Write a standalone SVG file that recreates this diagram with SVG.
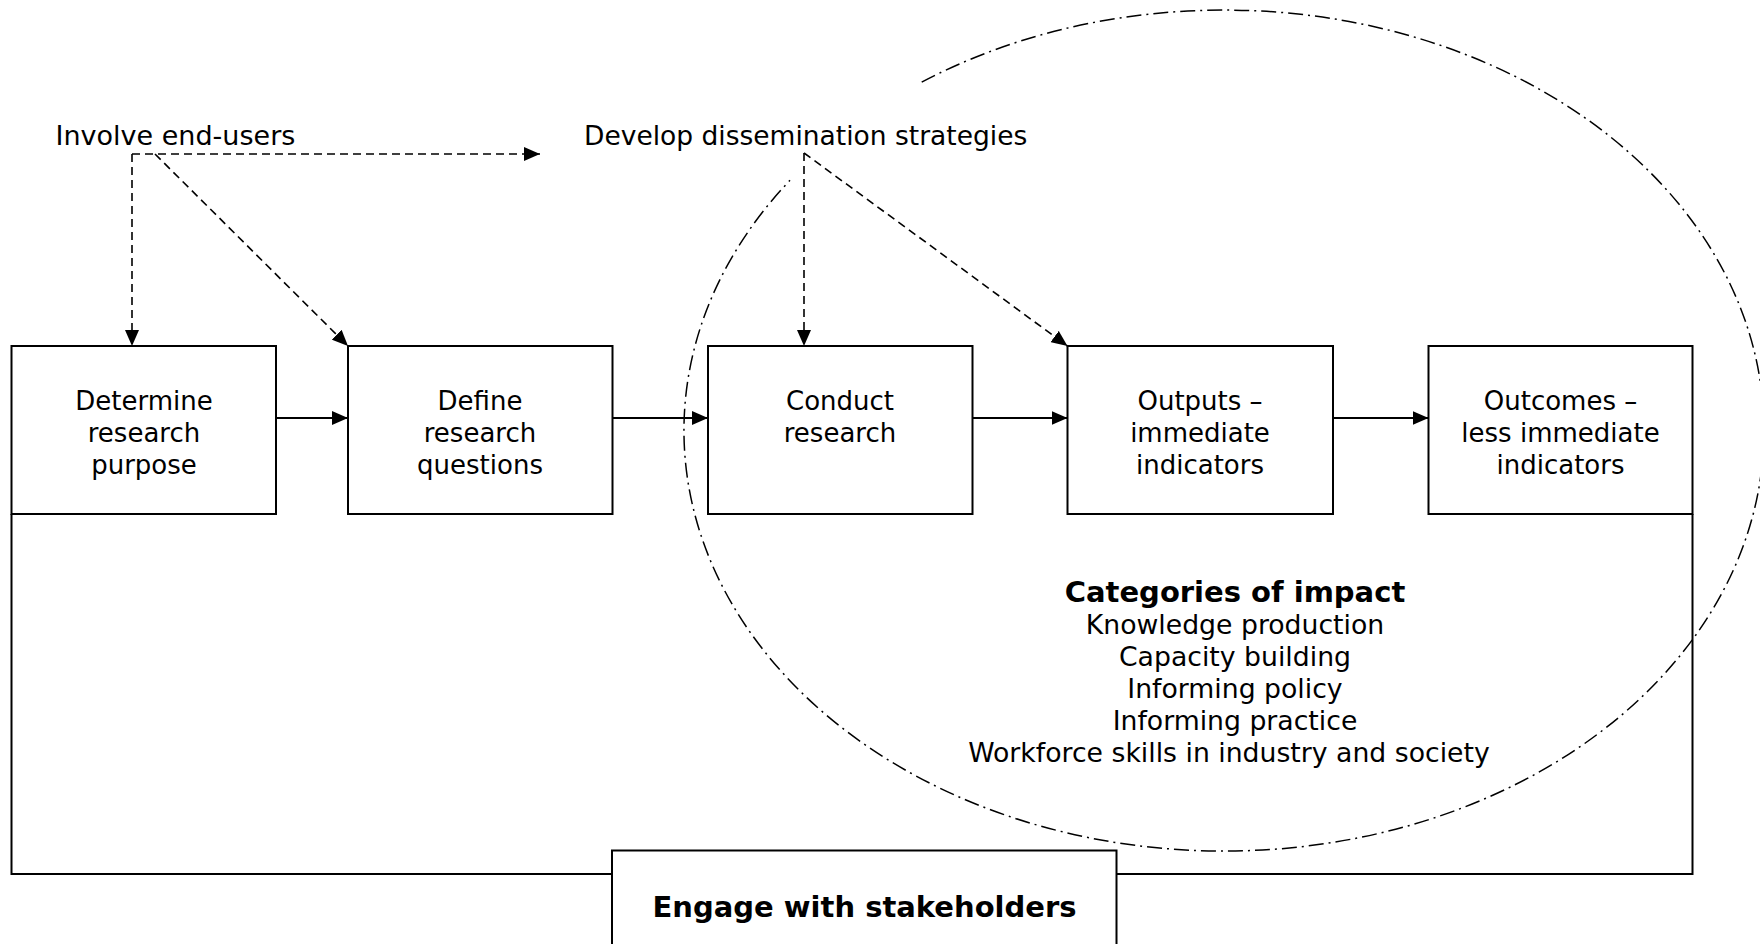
<svg xmlns="http://www.w3.org/2000/svg" width="1760" height="944" viewBox="0 0 1760 944">
<style>
text{font-family:"DejaVu Sans","Verdana",sans-serif;font-size:26px;fill:#000}
.c{text-anchor:middle}
.t{font-size:27px}
.t2{font-size:26.5px}
.l{font-size:26.7px}
.b{font-weight:bold;font-size:29px}
.box{fill:#fff;stroke:#000;stroke-width:2}
.solid{fill:none;stroke:#000;stroke-width:2}
.dash{fill:none;stroke:#000;stroke-width:1.6;stroke-dasharray:8 5}
.dd{fill:none;stroke:#000;stroke-width:1.5;stroke-dasharray:15 5 2 5}
</style>
<defs>
<marker id="ah" viewBox="0 0 16 14" refX="16" refY="7" markerWidth="16" markerHeight="14" markerUnits="userSpaceOnUse" orient="auto">
<path d="M0,0 L16,7 L0,14 Z" fill="#000"/>
</marker>
</defs>
<rect width="1760" height="944" fill="#fff"/>

<g id="impact-ellipse">
<path class="dd" d="M 921.7 82.1 A 540 420.5 0 1 1 790 180.3"/>
</g>

<g id="connectors">
<polyline class="solid" points="11.5,514 11.5,874 612,874"/>
<polyline class="solid" points="1692.5,514 1692.5,874 1116.5,874"/>
<line class="solid" x1="276" y1="418" x2="348" y2="418" marker-end="url(#ah)"/>
<line class="solid" x1="612" y1="418" x2="708" y2="418" marker-end="url(#ah)"/>
<line class="solid" x1="972" y1="418" x2="1067.5" y2="418" marker-end="url(#ah)"/>
<line class="solid" x1="1333" y1="418" x2="1428.5" y2="418" marker-end="url(#ah)"/>
<path class="dash" d="M132,154 L540,154" marker-end="url(#ah)"/>
<path class="dash" d="M132,154 L132,346" marker-end="url(#ah)"/>
<line class="dash" x1="155" y1="154" x2="348" y2="346" marker-end="url(#ah)"/>
<line class="dash" x1="804" y1="153" x2="804" y2="346" marker-end="url(#ah)"/>
<line class="dash" x1="804" y1="153" x2="1067.5" y2="346" marker-end="url(#ah)"/>
</g>

<g id="involve-end-users"><text class="t" x="55.5" y="145">Involve end-users</text></g>
<g id="develop-dissemination"><text class="t2" x="584" y="145">Develop dissemination strategies</text></g>

<g id="determine-purpose">
<rect class="box" x="11.5" y="346" width="264.5" height="168"/>
<text class="c" x="144" y="410">Determine</text>
<text class="c" x="144" y="442">research</text>
<text class="c" x="144" y="474">purpose</text>
</g>
<g id="define-questions">
<rect class="box" x="348" y="346" width="264.5" height="168"/>
<text class="c" x="480" y="410">Define</text>
<text class="c" x="480" y="442">research</text>
<text class="c" x="480" y="474">questions</text>
</g>
<g id="conduct-research">
<rect class="box" x="708" y="346" width="264.5" height="168"/>
<text class="c" x="840" y="410">Conduct</text>
<text class="c" x="840" y="442">research</text>
</g>
<g id="outputs">
<rect class="box" x="1067.5" y="346" width="265.5" height="168"/>
<text class="c" x="1200" y="410">Outputs –</text>
<text class="c" x="1200" y="442">immediate</text>
<text class="c" x="1200" y="474">indicators</text>
</g>
<g id="outcomes">
<rect class="box" x="1428.5" y="346" width="264" height="168"/>
<text class="c" x="1560.5" y="410">Outcomes –</text>
<text class="c" x="1560.5" y="442">less immediate</text>
<text class="c" x="1560.5" y="474">indicators</text>
</g>

<g id="categories-of-impact">
<text class="c b" x="1235" y="601.7">Categories of impact</text>
<text class="c l" x="1235" y="634">Knowledge production</text>
<text class="c l" x="1235" y="666">Capacity building</text>
<text class="c l" x="1235" y="698">Informing policy</text>
<text class="c l" x="1235" y="730">Informing practice</text>
<text class="c l" x="1229" y="762">Workforce skills in industry and society</text>
</g>

<g id="engage-stakeholders">
<rect class="box" x="612" y="850.5" width="504.5" height="110"/>
<text class="c b" x="864.5" y="916.7">Engage with stakeholders</text>
</g>
</svg>
